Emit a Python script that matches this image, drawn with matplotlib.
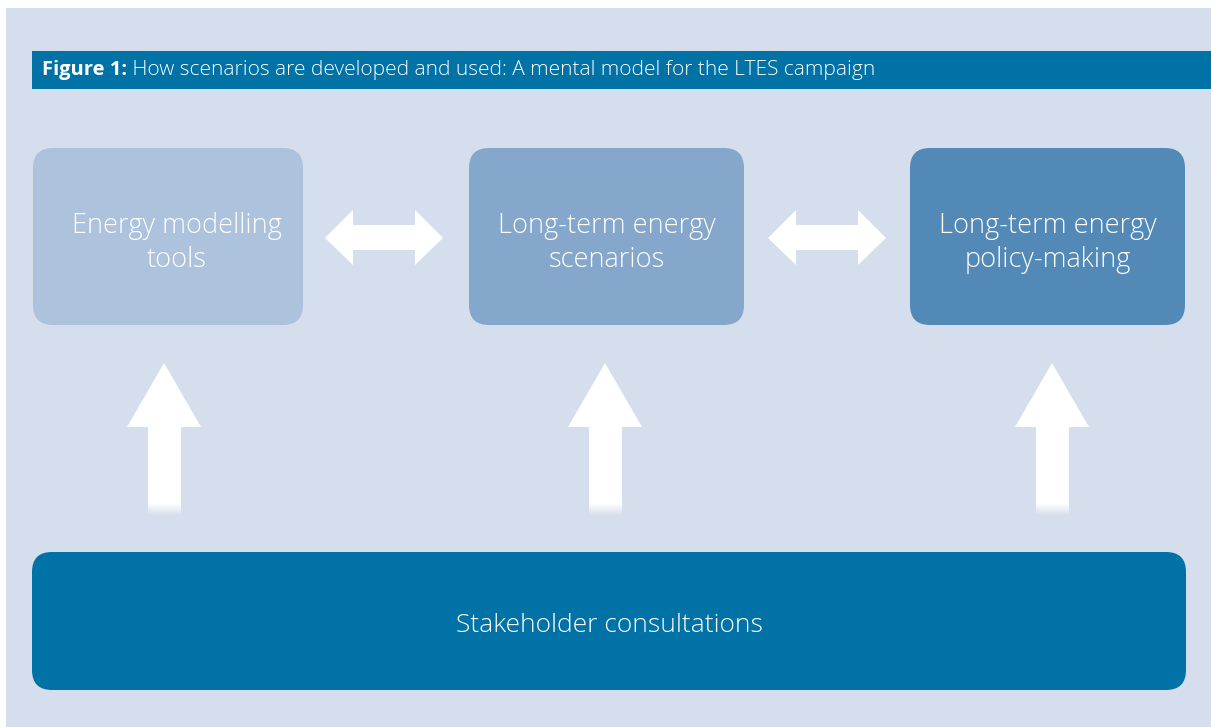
import numpy as np
import matplotlib.pyplot as plt
from matplotlib.patches import FancyBboxPatch, Rectangle, Polygon

title_bold = 'Figure 1:'
title_rest = ' How scenarios are developed and used: A mental model for the LTES campaign'
box_labels = ['Energy modelling\ntools', 'Long-term energy\nscenarios', 'Long-term energy\npolicy-making']
base_label = 'Stakeholder consultations'

bg = '#D5DEEC'
dark = '#0072A6'
box_colors = ['#ADC2DC', '#85A7CB', '#5289B6']
box_x = [33, 469, 910]
box_w = [270, 275, 275]
label_dx = [9, 0, 0]

plt.rcParams['font.family'] = ['Open Sans', 'DejaVu Sans']

fig = plt.figure(figsize=(12.11, 7.28), dpi=100)
ax = fig.add_axes([0, 0, 1, 1])
ax.set_xlim(0, 1211)
ax.set_ylim(728, 0)
ax.axis('off')

# background panel
ax.add_patch(Rectangle((6, 8), 1205, 719, color=bg, lw=0))

# title bar
ax.add_patch(Rectangle((32, 51), 1179, 38, color=dark, lw=0))
t = ax.text(42, 70, title_bold, color='white', fontsize=14.5, fontweight='bold', va='center')
fig.canvas.draw()
bb = t.get_window_extent().transformed(ax.transData.inverted())
ax.text(bb.x1, 70, title_rest, color='white', fontsize=15, fontweight='light', va='center')

# top boxes
r = 20
for x, w, c, lab, dx in zip(box_x, box_w, box_colors, box_labels, label_dx):
    ax.add_patch(FancyBboxPatch((x + r, 148 + r), w - 2 * r, 177 - 2 * r,
                                boxstyle='round,pad=%d' % r, fc=c, ec='none'))
    ax.text(x + w / 2 + dx, 243, lab, color='white', fontsize=19.5, fontweight='light',
            ha='center', va='center', linespacing=1.3)

# double arrows between boxes
for x0 in [325, 768]:
    L = 118
    pts = [(x0, 238), (x0 + 28, 210), (x0 + 28, 225), (x0 + L - 28, 225), (x0 + L - 28, 210),
           (x0 + L, 238), (x0 + L - 28, 265), (x0 + L - 28, 250), (x0 + 28, 250), (x0 + 28, 265)]
    ax.add_patch(Polygon(pts, closed=True, fc='white', ec='none'))

# up arrows with faded shaft end
grad = np.ones((90, 1, 4))
grad[:, 0, 3] = np.concatenate([np.ones(78), np.linspace(0.9, 0, 12)])
for cx in [164, 605, 1052]:
    head = [(cx, 363), (cx + 37, 427), (cx - 37, 427)]
    ax.add_patch(Polygon(head, closed=True, fc='white', ec='none'))
    ax.imshow(grad, extent=(cx - 16.5, cx + 16.5, 516, 426), aspect='auto', zorder=2,
              interpolation='bilinear')

# bottom box
ax.add_patch(FancyBboxPatch((32 + r, 552 + r), 1154 - 2 * r, 138 - 2 * r,
                            boxstyle='round,pad=%d' % r, fc=dark, ec='none'))
ax.text(609, 625, base_label, color='white', fontsize=19, fontweight='light',
        ha='center', va='center')

ax.set_xlim(0, 1211)
ax.set_ylim(728, 0)
fig.savefig('out.png', dpi=100)
